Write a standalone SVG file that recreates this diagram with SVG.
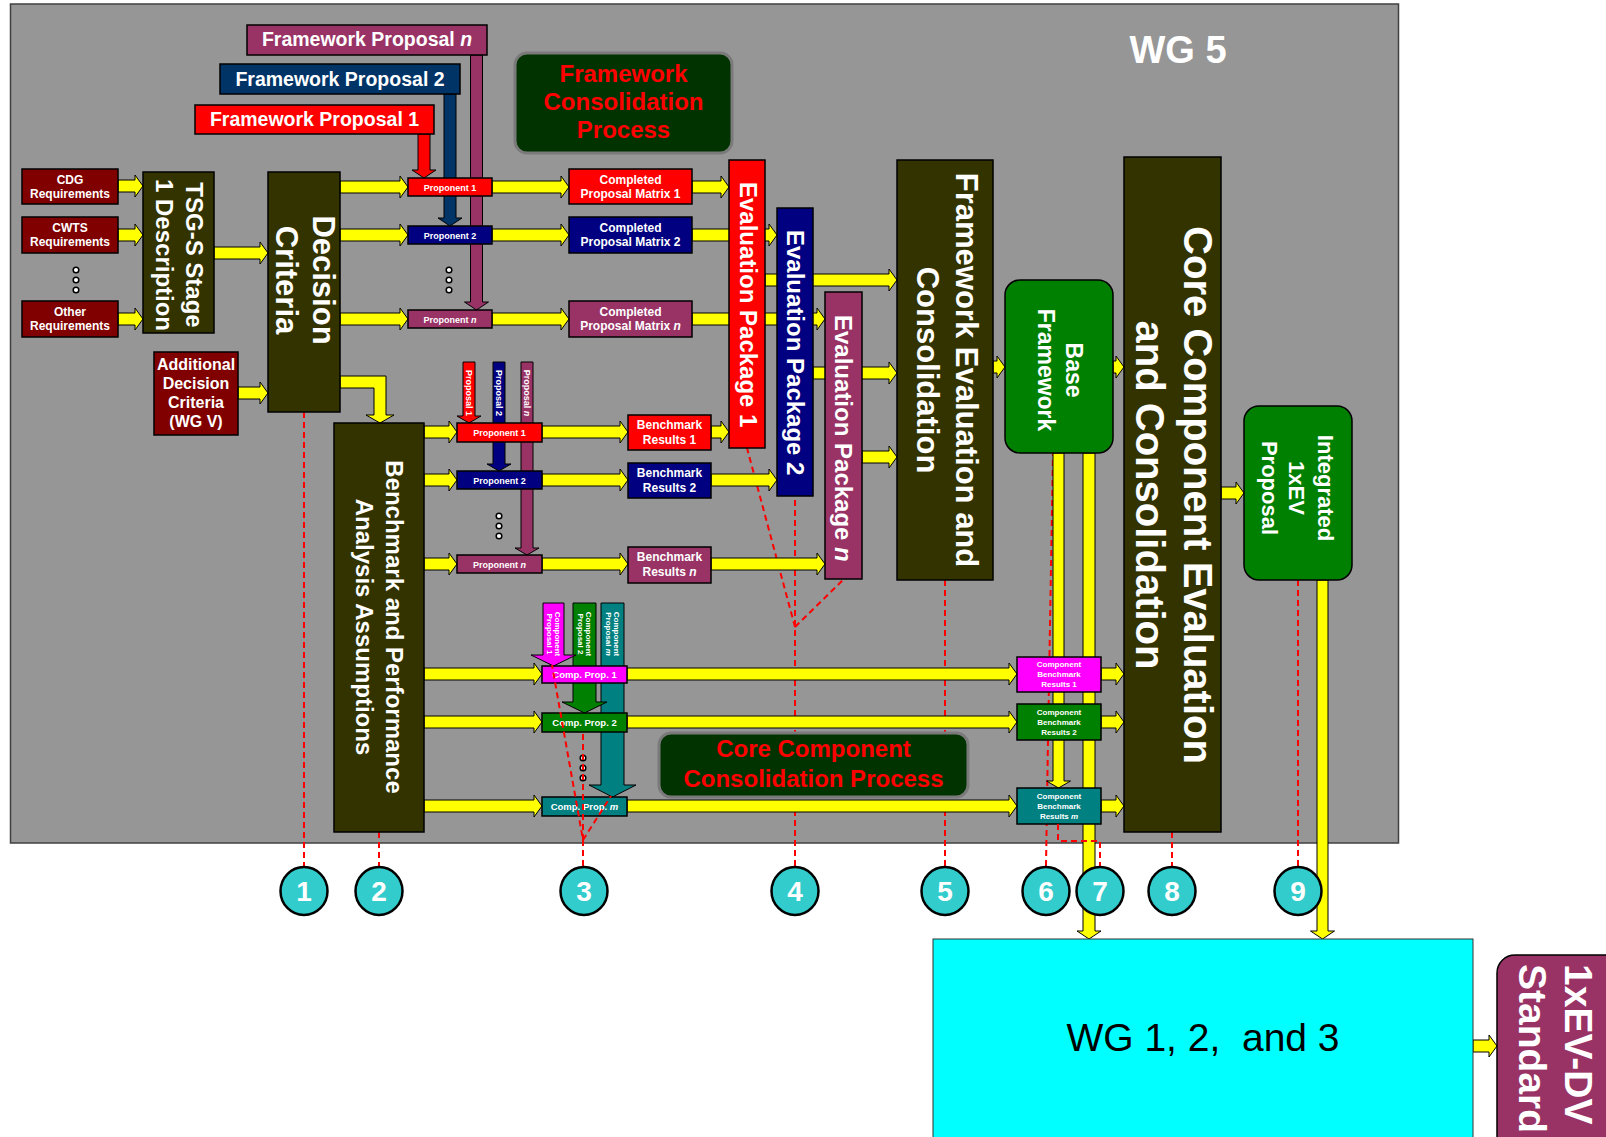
<svg xmlns="http://www.w3.org/2000/svg" width="1606" height="1137" viewBox="0 0 1606 1137">
<style>
.bg{fill:#969696;stroke:#404040;stroke-width:1.5}
.bx{stroke:#000;stroke-width:1.5}
.ya{fill:#FFFF00;stroke:#000;stroke-width:1}
.ca{stroke:#000;stroke-width:1}
.dash{fill:none;stroke:#FF0000;stroke-width:2;stroke-dasharray:6 4}
.t{font-family:"Liberation Sans",Arial,sans-serif;font-weight:bold;fill:#fff;text-anchor:middle}
.ts{font-family:"Liberation Sans",Arial,sans-serif;font-weight:bold;fill:#fff;text-anchor:start}
.rt{fill:#FF0000}
.num{fill:#33CCCC;stroke:#000;stroke-width:2.5}
.dot{fill:#fff;stroke:#000;stroke-width:1.5}
.olive{fill:#333300}
.mar{fill:#800000}
.red{fill:#FF0000}
.nav{fill:#000080}
.pur{fill:#993366}
.grn{fill:#008000}
.mag{fill:#FF00FF}
.teal{fill:#008080}
.dg{fill:#003300;stroke:#7a7a7a;stroke-width:3}
</style>
<rect class="bg" x="10.5" y="4" width="1388" height="839"/>

<g id="dashed-links">
<path class="dash" d="M304,412 V866"/>
<path class="dash" d="M379,832 V866"/>
<path class="dash" d="M795,866 V496 M795,627 L747,448 M795,627 L844,579"/>
<path class="dash" d="M945,580 V866"/>
<path class="dash" d="M1046,866 L1048,740 L1053,453"/>
<path class="dash" d="M1172,832 V866"/>
<path class="dash" d="M1298,580 V866"/>
</g>

<g id="connectors">
<polygon class="ya" points="1053,453 1064,453 1064,781 1070.5,781 1058.5,788 1046.5,781 1053,781"/>
<polygon class="ya" points="1083,453 1095,453 1095,931 1101,931 1089,939 1077,931 1083,931"/>
<polygon class="ya" points="1317,580 1328,580 1328,931 1334.5,931 1322.5,939 1310.5,931 1317,931"/>
<polygon class="ya" points="340,376 386,376 386,415 394,415 380,423 366,415 374,415 374,388 340,388"/>
<polygon class="ca" fill="#FF0000" points="418,134 430,134 430,170 436,170 424,178 412,170 418,170"/>
<polygon class="ca" fill="#003366" points="444,94 456,94 456,218 462,218 450,226 438,218 444,218"/>
<polygon class="ca" fill="#993366" points="470.5,55 482.5,55 482.5,302 488.5,302 476.5,310 464.5,302 470.5,302"/>
<polygon class="ca" fill="#FF0000" points="463,362 475,362 475,416 481,416 469,423 457,416 463,416"/>
<polygon class="ca" fill="#000080" points="493,362 505,362 505,464 511,464 499,471 487,464 493,464"/>
<polygon class="ca" fill="#993366" points="521,362 533,362 533,548 539,548 527,555 515,548 521,548"/>
<polygon class="ca" fill="#008080" points="601,603 624,603 624,785 636,785 612.5,797 589,785 601,785"/>
<polygon class="ca" fill="#008000" points="573,603 596,603 596,702 607,702 584.5,713 562,702 573,702"/>
<polygon class="ca" fill="#FF00FF" points="543,603 564,603 564,655 576,655 553.5,666 531,655 543,655"/>
<polygon class="ya" points="118,180 135,180 135,175 143,186 135,197 135,192 118,192"/>
<polygon class="ya" points="118,229 135,229 135,224 143,235 135,246 135,241 118,241"/>
<polygon class="ya" points="118,313 135,313 135,308 143,319 135,330 135,325 118,325"/>
<polygon class="ya" points="214,247 260,247 260,242 268,253 260,264 260,259 214,259"/>
<polygon class="ya" points="238,387 260,387 260,382 268,393 260,404 260,399 238,399"/>
<polygon class="ya" points="340,181 400,181 400,176 408,187 400,198 400,193 340,193"/>
<polygon class="ya" points="340,229 400,229 400,224 408,235 400,246 400,241 340,241"/>
<polygon class="ya" points="340,313 400,313 400,308 408,319 400,330 400,325 340,325"/>
<polygon class="ya" points="492,181 561,181 561,176 569,187 561,198 561,193 492,193"/>
<polygon class="ya" points="492,229 561,229 561,224 569,235 561,246 561,241 492,241"/>
<polygon class="ya" points="492,313 561,313 561,308 569,319 561,330 561,325 492,325"/>
<polygon class="ya" points="692,181 721,181 721,176 729,187 721,198 721,193 692,193"/>
<polygon class="ya" points="692,229 769,229 769,224 777,235 769,246 769,241 692,241"/>
<polygon class="ya" points="692,313 817,313 817,308 825,319 817,330 817,325 692,325"/>
<polygon class="ya" points="765,274 889,274 889,269 897,280 889,291 889,286 765,286"/>
<polygon class="ya" points="813,367 889,367 889,362 897,373 889,384 889,379 813,379"/>
<polygon class="ya" points="862,451 889,451 889,446 897,457 889,468 889,463 862,463"/>
<polygon class="ya" points="993,361 997,361 997,356 1005,367 997,378 997,373 993,373"/>
<polygon class="ya" points="1113,361 1116,361 1116,356 1124,367 1116,378 1116,373 1113,373"/>
<polygon class="ya" points="424,426 449,426 449,421 457,432 449,443 449,438 424,438"/>
<polygon class="ya" points="424,474 449,474 449,469 457,480 449,491 449,486 424,486"/>
<polygon class="ya" points="424,558 449,558 449,553 457,564 449,575 449,570 424,570"/>
<polygon class="ya" points="542,426 620,426 620,421 628,432 620,443 620,438 542,438"/>
<polygon class="ya" points="542,474 620,474 620,469 628,480 620,491 620,486 542,486"/>
<polygon class="ya" points="542,558 620,558 620,553 628,564 620,575 620,570 542,570"/>
<polygon class="ya" points="711,426 721,426 721,421 729,432 721,443 721,438 711,438"/>
<polygon class="ya" points="711,474 769,474 769,469 777,480 769,491 769,486 711,486"/>
<polygon class="ya" points="711,558 817,558 817,553 825,564 817,575 817,570 711,570"/>
<polygon class="ya" points="424,668 534,668 534,663 542,674 534,685 534,680 424,680"/>
<polygon class="ya" points="424,716 534,716 534,711 542,722 534,733 534,728 424,728"/>
<polygon class="ya" points="424,800 534,800 534,795 542,806 534,817 534,812 424,812"/>
<polygon class="ya" points="627,668 1009,668 1009,663 1017,674 1009,685 1009,680 627,680"/>
<polygon class="ya" points="627,716 1009,716 1009,711 1017,722 1009,733 1009,728 627,728"/>
<polygon class="ya" points="627,800 1009,800 1009,795 1017,806 1009,817 1009,812 627,812"/>
<polygon class="ya" points="1101,668 1116,668 1116,663 1124,674 1116,685 1116,680 1101,680"/>
<polygon class="ya" points="1101,716 1116,716 1116,711 1124,722 1116,733 1116,728 1101,728"/>
<polygon class="ya" points="1101,800 1116,800 1116,795 1124,806 1116,817 1116,812 1101,812"/>
<polygon class="ya" points="1221,487 1236,487 1236,482 1244,493 1236,504 1236,499 1221,499"/>
<polygon class="ya" points="1473,1040 1489,1040 1489,1035 1497,1046 1489,1057 1489,1052 1473,1052"/>
</g>

<text class="t" x="1178" y="63" font-size="38">WG 5</text>

<g id="fp-n"><rect class="bx pur" x="247" y="25" width="240" height="30"/><text class="t" x="367" y="46" font-size="19.5">Framework Proposal <tspan font-style="italic">n</tspan></text></g>
<g id="fp-2"><rect class="bx" fill="#003366" x="220" y="64" width="240" height="30"/><text class="t" x="340" y="86" font-size="19.5">Framework Proposal 2</text></g>
<g id="fp-1"><rect class="bx red" x="195" y="105" width="239" height="29"/><text class="t" x="314.5" y="126" font-size="19.5">Framework Proposal 1</text></g>

<g id="fcp"><rect class="dg" x="515" y="53" width="217" height="100" rx="12"/><text class="t rt" x="623.5" font-size="24"><tspan x="623.5" y="82">Framework</tspan><tspan x="623.5" y="110">Consolidation</tspan><tspan x="623.5" y="138">Process</tspan></text></g>

<g id="req-cdg"><rect class="bx mar" x="22" y="169" width="96" height="35"/><text class="t" font-size="12"><tspan x="70" y="184">CDG</tspan><tspan x="70" y="198">Requirements</tspan></text></g>
<g id="req-cwts"><rect class="bx mar" x="22" y="217" width="96" height="36"/><text class="t" font-size="12"><tspan x="70" y="232">CWTS</tspan><tspan x="70" y="246">Requirements</tspan></text></g>
<g id="req-other"><rect class="bx mar" x="22" y="301" width="96" height="36"/><text class="t" font-size="12"><tspan x="70" y="316">Other</tspan><tspan x="70" y="330">Requirements</tspan></text></g>
<g id="dots-req"><circle class="dot" cx="76" cy="270" r="2.8"/><circle class="dot" cx="76" cy="280" r="2.8"/><circle class="dot" cx="76" cy="290" r="2.8"/></g>

<g id="tsg"><rect class="bx olive" x="143" y="172" width="71" height="161"/><text class="t" font-size="24" transform="translate(178.5,255) rotate(90)"><tspan x="0" y="-7.4">TSG-S Stage</tspan><tspan x="0" y="22.6">1 Description</tspan></text></g>
<g id="decision"><rect class="bx olive" x="268" y="172" width="72" height="240"/><text class="t" font-size="31" transform="translate(304,280) rotate(90)"><tspan x="0" y="-8.9">Decision</tspan><tspan x="0" y="28.1">Criteria</tspan></text></g>
<g id="additional"><rect class="bx mar" x="154" y="352" width="84" height="83"/><text class="t" font-size="16"><tspan x="196" y="370">Additional</tspan><tspan x="196" y="389">Decision</tspan><tspan x="196" y="408">Criteria</tspan><tspan x="196" y="427">(WG V)</tspan></text></g>
<g id="benchmark-assumptions"><rect class="bx olive" x="334" y="423" width="90" height="409"/><text class="t" font-size="24" transform="translate(379,627) rotate(90)"><tspan x="0" y="-7.4">Benchmark and Performance</tspan><tspan x="0" y="22.6">Analysis Assumptions</tspan></text></g>

<g id="prop-1"><rect class="bx red" x="408" y="178" width="84" height="18"/><text class="t" x="450" y="190.5" font-size="9">Proponent 1</text></g>
<g id="prop-2"><rect class="bx nav" x="408" y="226" width="84" height="18"/><text class="t" x="450" y="238.5" font-size="9">Proponent 2</text></g>
<g id="prop-n"><rect class="bx pur" x="408" y="310" width="84" height="18"/><text class="t" x="450" y="322.5" font-size="9">Proponent <tspan font-style="italic">n</tspan></text></g>
<g id="dots-prop"><circle class="dot" cx="449" cy="270" r="2.8"/><circle class="dot" cx="449" cy="280" r="2.8"/><circle class="dot" cx="449" cy="290" r="2.8"/></g>

<g id="cpm-1"><rect class="bx red" x="569" y="169" width="123" height="35"/><text class="t" font-size="12"><tspan x="630.5" y="184">Completed</tspan><tspan x="630.5" y="198">Proposal Matrix 1</tspan></text></g>
<g id="cpm-2"><rect class="bx nav" x="569" y="217" width="123" height="36"/><text class="t" font-size="12"><tspan x="630.5" y="232">Completed</tspan><tspan x="630.5" y="246">Proposal Matrix 2</tspan></text></g>
<g id="cpm-n"><rect class="bx pur" x="569" y="301" width="123" height="36"/><text class="t" font-size="12"><tspan x="630.5" y="316">Completed</tspan><tspan x="630.5" y="330">Proposal Matrix <tspan font-style="italic">n</tspan></tspan></text></g>

<g id="ep-1"><rect class="bx red" x="729" y="160" width="36" height="288"/><text class="ts" font-size="24" transform="translate(749,182) rotate(90)" x="0" y="8.6">Evaluation Package 1</text></g>
<g id="ep-2"><rect class="bx nav" x="777" y="208" width="36" height="288"/><text class="ts" font-size="24" transform="translate(796,230) rotate(90)" x="0" y="8.6">Evaluation Package 2</text></g>
<g id="ep-n"><rect class="bx pur" x="825" y="292" width="37" height="287"/><text class="ts" font-size="24" transform="translate(844,315) rotate(90)" x="0" y="8.6">Evaluation Package <tspan font-style="italic">n</tspan></text></g>

<g id="fe"><rect class="bx olive" x="897" y="160" width="96" height="420"/><text class="t" font-size="31" transform="translate(945,370) rotate(90)"><tspan x="0" y="-10.9">Framework Evaluation and</tspan><tspan x="0" y="28.1">Consolidation</tspan></text></g>
<g id="base"><rect class="bx grn" x="1005" y="280" width="108" height="173" rx="15"/><text class="t" font-size="23" transform="translate(1059,370) rotate(90)"><tspan x="0" y="-6.8">Base</tspan><tspan x="0" y="21.2">Framework</tspan></text></g>
<g id="core"><rect class="bx olive" x="1124" y="157" width="97" height="675"/><text class="t" font-size="40" transform="translate(1172,495) rotate(90)"><tspan x="0" y="-11.7">Core Component Evaluation</tspan><tspan x="0" y="36.3">and Consolidation</tspan></text></g>
<g id="integrated"><rect class="bx grn" x="1244" y="406" width="108" height="174" rx="15"/><text class="t" font-size="22" transform="translate(1297,488) rotate(90)"><tspan x="0" y="-21.1">Integrated</tspan><tspan x="0" y="7.9">1xEV</tspan><tspan x="0" y="34.9">Proposal</tspan></text></g>

<g id="proposal-labels">
<text class="t" font-size="9" transform="translate(469,393) rotate(90)" x="0" y="3.2">Proposal 1</text>
<text class="t" font-size="9" transform="translate(499,393) rotate(90)" x="0" y="3.2">Proposal 2</text>
<text class="t" font-size="9" transform="translate(527,393) rotate(90)" x="0" y="3.2">Proposal <tspan font-style="italic">n</tspan></text>
</g>

<g id="prop-1b"><rect class="bx red" x="457" y="423" width="85" height="19"/><text class="t" x="499.5" y="436" font-size="9">Proponent 1</text></g>
<g id="prop-2b"><rect class="bx nav" x="457" y="471" width="85" height="18"/><text class="t" x="499.5" y="483.5" font-size="9">Proponent 2</text></g>
<g id="prop-nb"><rect class="bx pur" x="457" y="555" width="85" height="18"/><text class="t" x="499.5" y="567.5" font-size="9">Proponent <tspan font-style="italic">n</tspan></text></g>
<g id="dots-propb"><circle class="dot" cx="499" cy="516" r="2.8"/><circle class="dot" cx="499" cy="526" r="2.8"/><circle class="dot" cx="499" cy="536" r="2.8"/></g>

<g id="br-1"><rect class="bx red" x="628" y="415" width="83" height="35"/><text class="t" font-size="12"><tspan x="669.5" y="429">Benchmark</tspan><tspan x="669.5" y="444">Results 1</tspan></text></g>
<g id="br-2"><rect class="bx nav" x="628" y="463" width="83" height="35"/><text class="t" font-size="12"><tspan x="669.5" y="477">Benchmark</tspan><tspan x="669.5" y="492">Results 2</tspan></text></g>
<g id="br-n"><rect class="bx pur" x="628" y="547" width="83" height="36"/><text class="t" font-size="12"><tspan x="669.5" y="561">Benchmark</tspan><tspan x="669.5" y="576">Results <tspan font-style="italic">n</tspan></tspan></text></g>

<g id="component-labels">
<text class="t" font-size="8" transform="translate(553.5,634) rotate(90)"><tspan x="0" y="-1.1">Component</tspan><tspan x="0" y="6.9">Proposal 1</tspan></text>
<text class="t" font-size="8" transform="translate(584.5,634) rotate(90)"><tspan x="0" y="-1.1">Component</tspan><tspan x="0" y="6.9">Proposal 2</tspan></text>
<text class="t" font-size="8" transform="translate(612.5,634) rotate(90)"><tspan x="0" y="-1.1">Component</tspan><tspan x="0" y="6.9">Proposal <tspan font-style="italic">m</tspan></tspan></text>
</g>

<g id="cp-1"><rect class="bx mag" x="542" y="666" width="85" height="17"/><text class="t" x="584.5" y="678" font-size="9.5">Comp. Prop. 1</text></g>
<g id="cp-2"><rect class="bx grn" x="542" y="713" width="85" height="19"/><text class="t" x="584.5" y="726" font-size="9.5">Comp. Prop. 2</text></g>
<g id="cp-m"><rect class="bx teal" x="542" y="797" width="85" height="19"/><text class="t" x="584.5" y="810" font-size="9.5">Comp. Prop. <tspan font-style="italic">m</tspan></text></g>
<g id="dots-cp"><circle class="dot" cx="583" cy="758" r="2.8"/><circle class="dot" cx="583" cy="768" r="2.8"/><circle class="dot" cx="583" cy="778" r="2.8"/></g>

<g id="cccp"><rect class="dg" x="659" y="733" width="309" height="64" rx="12"/><text class="t rt" font-size="24"><tspan x="813.5" y="757">Core Component</tspan><tspan x="813.5" y="787">Consolidation Process</tspan></text></g>

<g id="cbr-1"><rect class="bx mag" x="1017" y="657" width="84" height="35"/><text class="t" font-size="8"><tspan x="1059" y="667">Component</tspan><tspan x="1059" y="677">Benchmark</tspan><tspan x="1059" y="687">Results 1</tspan></text></g>
<g id="cbr-2"><rect class="bx grn" x="1017" y="704" width="84" height="36"/><text class="t" font-size="8"><tspan x="1059" y="715">Component</tspan><tspan x="1059" y="725">Benchmark</tspan><tspan x="1059" y="735">Results 2</tspan></text></g>
<g id="cbr-m"><rect class="bx teal" x="1017" y="788" width="84" height="36"/><text class="t" font-size="8"><tspan x="1059" y="799">Component</tspan><tspan x="1059" y="809">Benchmark</tspan><tspan x="1059" y="819">Results <tspan font-style="italic">m</tspan></tspan></text></g>

<g id="wg123"><rect x="933" y="939" width="540" height="210" fill="#00FFFF" stroke="#333" stroke-width="1"/><text x="1203" y="1051" font-size="39" font-family="Liberation Sans, Arial, sans-serif" text-anchor="middle" fill="#000" xml:space="preserve">WG 1, 2,  and 3</text></g>
<g id="standard"><rect class="bx pur" x="1497" y="955" width="130" height="200" rx="18" stroke-width="2"/><text class="ts" font-size="39" transform="translate(1556,964) rotate(90)"><tspan x="0" y="-9">1xEV-DV</tspan><tspan x="0" y="37">Standard</tspan></text></g>

<g id="dashed-links-top">
<path class="dash" d="M583,866 V840 L552,665 M583,840 L583,732 M583,840 L611,796"/>
<path class="dash" d="M1058,824 V841 H1100 V866"/>
</g>

<g id="markers" font-family="Liberation Sans, Arial, sans-serif" font-weight="bold" font-size="28" fill="#fff" text-anchor="middle">
<g id="m1"><ellipse class="num" cx="304" cy="891" rx="23.5" ry="24"/><text x="304" y="901">1</text></g>
<g id="m2"><ellipse class="num" cx="379" cy="891" rx="23.5" ry="24"/><text x="379" y="901">2</text></g>
<g id="m3"><ellipse class="num" cx="584" cy="891" rx="23.5" ry="24"/><text x="584" y="901">3</text></g>
<g id="m4"><ellipse class="num" cx="795" cy="891" rx="23.5" ry="24"/><text x="795" y="901">4</text></g>
<g id="m5"><ellipse class="num" cx="945" cy="891" rx="23.5" ry="24"/><text x="945" y="901">5</text></g>
<g id="m6"><ellipse class="num" cx="1046" cy="891" rx="23.5" ry="24"/><text x="1046" y="901">6</text></g>
<g id="m7"><ellipse class="num" cx="1100" cy="891" rx="23.5" ry="24"/><text x="1100" y="901">7</text></g>
<g id="m8"><ellipse class="num" cx="1172" cy="891" rx="23.5" ry="24"/><text x="1172" y="901">8</text></g>
<g id="m9"><ellipse class="num" cx="1298" cy="891" rx="23.5" ry="24"/><text x="1298" y="901">9</text></g>
</g>
</svg>
